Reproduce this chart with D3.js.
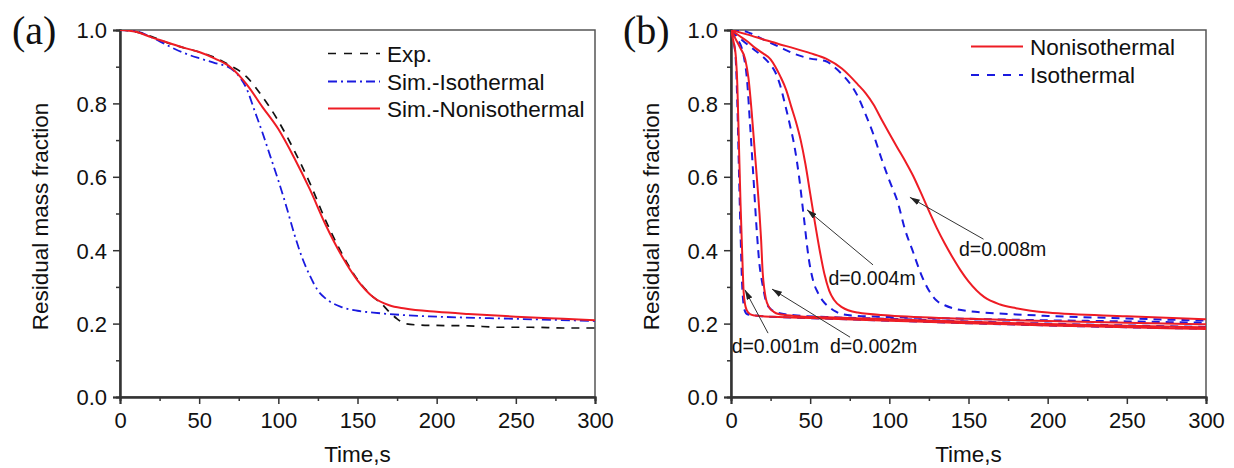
<!DOCTYPE html>
<html>
<head>
<meta charset="utf-8">
<script src="https://cdn.jsdelivr.net/npm/d3@7"></script>
<style>
  body { margin: 0; background: #fff; }
  text { font-family: "Liberation Sans", Arial, sans-serif; fill: #111; }
</style>
</head>
<body>
<svg id="chart" width="1234" height="468"></svg>
<script>
// ---- Panel (a): experiment vs. simulations, [time (s), residual mass fraction]
const expData = [[0,1.0],[10,0.995],[20,0.982],[30,0.965],[40,0.952],[50,0.94],[60,0.925],[70,0.902],[75,0.89],[80,0.872],[90,0.818],[100,0.752],[110,0.672],[120,0.582],[130,0.48],[140,0.392],[150,0.32],[160,0.272],[165,0.255],[170,0.232],[175,0.213],[180,0.2],[190,0.196],[200,0.195],[220,0.194],[240,0.19],[260,0.19],[280,0.188],[300,0.188]];
const isoData = [[0,1.0],[10,0.997],[20,0.98],[30,0.958],[40,0.938],[50,0.923],[60,0.91],[70,0.895],[75,0.875],[80,0.84],[85,0.78],[90,0.72],[95,0.655],[100,0.59],[105,0.52],[110,0.445],[115,0.38],[120,0.33],[125,0.29],[130,0.268],[140,0.245],[150,0.235],[160,0.23],[180,0.223],[200,0.219],[250,0.213],[300,0.207]];
const nonisoData = [[0,1.0],[10,0.995],[20,0.98],[30,0.966],[40,0.952],[50,0.94],[60,0.922],[70,0.898],[80,0.852],[90,0.79],[100,0.73],[110,0.652],[120,0.565],[130,0.468],[140,0.385],[150,0.318],[160,0.272],[170,0.25],[180,0.241],[200,0.232],[220,0.226],[250,0.219],[280,0.213],[300,0.209]];

// ---- Panel (b): particle diameter study
const red008 = [[0,1.0],[10,0.988],[20,0.975],[30,0.962],[40,0.95],[50,0.937],[60,0.922],[70,0.895],[75,0.875],[80,0.852],[85,0.828],[90,0.797],[95,0.757],[100,0.718],[105,0.68],[110,0.643],[115,0.603],[120,0.556],[125,0.507],[130,0.46],[135,0.418],[140,0.38],[145,0.345],[150,0.315],[160,0.272],[170,0.252],[180,0.242],[200,0.23],[250,0.22],[300,0.212]];
const blue008 = [[0,1.0],[5,1.0],[10,0.995],[20,0.975],[30,0.955],[40,0.935],[50,0.922],[60,0.915],[65,0.9],[70,0.88],[75,0.855],[80,0.82],[85,0.77],[90,0.715],[95,0.65],[100,0.59],[105,0.535],[110,0.455],[115,0.395],[120,0.335],[125,0.29],[130,0.262],[135,0.25],[140,0.242],[150,0.234],[160,0.23],[180,0.225],[200,0.221],[250,0.214],[300,0.208]];
const red004 = [[0,1.0],[5,0.985],[10,0.97],[15,0.952],[20,0.937],[25,0.92],[28,0.9],[31,0.875],[35,0.835],[38,0.792],[41,0.75],[44,0.7],[47,0.635],[50,0.555],[53,0.475],[56,0.4],[59,0.335],[62,0.29],[65,0.265],[70,0.245],[80,0.23],[100,0.222],[150,0.213],[200,0.207],[250,0.202],[300,0.198]];
const blue004 = [[0,1.0],[5,0.98],[10,0.962],[15,0.945],[20,0.928],[25,0.905],[28,0.885],[31,0.85],[34,0.8],[37,0.745],[40,0.685],[43,0.6],[46,0.49],[49,0.38],[52,0.315],[55,0.283],[58,0.262],[62,0.245],[66,0.233],[70,0.226],[80,0.221],[100,0.218],[150,0.213],[200,0.209],[250,0.206],[300,0.202]];
const red002 = [[0,1.0],[3,0.975],[6,0.95],[9,0.92],[11,0.87],[13,0.78],[15,0.67],[17,0.56],[18,0.5],[19,0.43],[20,0.34],[21,0.295],[22,0.268],[24,0.245],[27,0.232],[30,0.226],[40,0.221],[60,0.217],[100,0.212],[150,0.205],[200,0.199],[250,0.194],[300,0.19]];
const blue002 = [[0,1.0],[2,0.99],[4,0.975],[6,0.96],[8,0.93],[10,0.87],[12,0.745],[14,0.61],[16,0.47],[17,0.41],[18,0.36],[19,0.33],[20,0.305],[22,0.262],[25,0.24],[30,0.229],[40,0.223],[60,0.218],[100,0.213],[150,0.206],[200,0.2],[250,0.195],[300,0.191]];
const red001 = [[0,1.0],[1,0.98],[2,0.96],[3,0.93],[4,0.85],[5,0.69],[6,0.53],[7,0.4],[8,0.285],[9,0.25],[10,0.236],[12,0.226],[15,0.222],[20,0.22],[30,0.218],[50,0.215],[100,0.208],[150,0.201],[200,0.195],[250,0.19],[300,0.185]];
const blue001 = [[0,1.0],[1,0.985],[2,0.96],[3,0.92],[4,0.8],[5,0.62],[6,0.45],[7,0.31],[8,0.25],[9,0.232],[10,0.226],[15,0.222],[20,0.22],[50,0.215],[100,0.208],[150,0.201],[200,0.195],[250,0.19],[300,0.186]];

// Axis tick values
const xTicks = [0, 50, 100, 150, 200, 250, 300];
const xMinor = [25, 75, 125, 175, 225, 275];
const yTicks = [0.0, 0.2, 0.4, 0.6, 0.8, 1.0];
const yMinor = [0.1, 0.3, 0.5, 0.7, 0.9];

// Diameter labels with arrows: [label, text t, text v, tail t, tail v, tip t, tip v]
const diamLabels = [
  ["d=0.008m", 144, 0.384, 159.5, 0.43, 113, 0.544],
  ["d=0.004m", 61.5, 0.305, 89.7, 0.36, 48, 0.51],
  ["d=0.001m", 0.4, 0.121, 23.4, 0.174, 8.8, 0.292],
  ["d=0.002m", 62.5, 0.121, 75.2, 0.163, 25.9, 0.294]
];

const svg = d3.select("#chart");
const RED = "#ee1c24", BLUE = "#1a1adf";

const defs = svg.append("defs");
defs.append("marker")
  .attr("id", "arrowhead")
  .attr("viewBox", "0 0 10 6")
  .attr("refX", 10).attr("refY", 3)
  .attr("markerWidth", 10).attr("markerHeight", 6)
  .attr("markerUnits", "userSpaceOnUse")
  .attr("orient", "auto")
  .append("path").attr("d", "M0,0 L10,3 L0,6 Z").attr("fill", "#222");

function makePanel(id, left, right, top, bottom, tag) {
  const x = d3.scaleLinear().domain([0, 300]).range([left, right]);
  const y = d3.scaleLinear().domain([0, 1]).range([bottom, top]);
  const g = svg.append("g").attr("id", id);

  defs.append("clipPath").attr("id", "clip-" + id)
    .append("rect").attr("x", left).attr("y", top)
    .attr("width", right - left).attr("height", bottom - top);

  // frame
  g.append("rect").attr("x", left).attr("y", top)
    .attr("width", right - left).attr("height", bottom - top)
    .attr("fill", "none").attr("stroke", "#555").attr("stroke-width", 1.5);

  const xAxis = g.append("g").attr("transform", `translate(0,${bottom})`)
    .call(d3.axisBottom(x).tickValues(xTicks).tickSize(7).tickPadding(8).tickFormat(d3.format("d")));
  const xAxisMinor = g.append("g").attr("transform", `translate(0,${bottom})`)
    .call(d3.axisBottom(x).tickValues(xMinor).tickSize(4).tickFormat(""));
  const yAxis = g.append("g").attr("transform", `translate(${left},0)`)
    .call(d3.axisLeft(y).tickValues(yTicks).tickSize(7).tickPadding(6).tickFormat(d3.format(".1f")));
  const yAxisMinor = g.append("g").attr("transform", `translate(${left},0)`)
    .call(d3.axisLeft(y).tickValues(yMinor).tickSize(4).tickFormat(""));

  [xAxis, xAxisMinor, yAxis, yAxisMinor].forEach(a => {
    a.select(".domain").attr("stroke", "#333").attr("stroke-width", 2);
    a.selectAll(".tick line").attr("stroke", "#333").attr("stroke-width", 1.5);
    a.selectAll("text").attr("font-size", 22).attr("fill", "#111")
      .style("font-family", '"Liberation Sans", Arial, sans-serif');
  });
  yAxis.selectAll("text").attr("dy", "0.36em");

  // axis titles
  g.append("text").attr("x", (left + right) / 2).attr("y", 462)
    .attr("text-anchor", "middle").attr("font-size", 22.5).text("Time,s");
  g.append("text")
    .attr("transform", `translate(${left - 72},${(top + bottom) / 2 + 3}) rotate(-90)`)
    .attr("text-anchor", "middle").attr("font-size", 22.5).text("Residual mass fraction");

  // panel tag
  g.append("text").attr("x", left - 108).attr("y", 44)
    .style("font-family", '"Liberation Serif", "Times New Roman", serif')
    .attr("font-size", 40).text(tag);

  const plot = g.append("g").attr("clip-path", `url(#clip-${id})`);
  const line = d3.line().x(d => x(d[0])).y(d => y(d[1])).curve(d3.curveMonotoneX);
  return { x, y, g, plot, line };
}

function drawSeries(p, data, color, width, dash) {
  p.plot.append("path").datum(data)
    .attr("d", p.line)
    .attr("fill", "none").attr("stroke", color)
    .attr("stroke-width", width)
    .attr("stroke-dasharray", dash || null)
    .attr("stroke-linejoin", "round");
}

function legend(p, x0, rows) {
  rows.forEach(r => {
    const yy = r.y;
    p.g.append("line").attr("x1", x0).attr("x2", x0 + 52).attr("y1", yy).attr("y2", yy)
      .attr("stroke", r.color).attr("stroke-width", r.width)
      .attr("stroke-dasharray", r.dash || null);
    p.g.append("text").attr("x", x0 + 59).attr("y", yy + 8)
      .attr("font-size", 22.5).text(r.label);
  });
}

// ---------- Panel (a)
const pa = makePanel("pa", 120, 595, 30, 397, "(a)");
drawSeries(pa, isoData, BLUE, 1.8, "9,4,2,4");
drawSeries(pa, expData, "#111", 1.7, "8,7");
drawSeries(pa, nonisoData, RED, 2);
legend(pa, 328, [
  { label: "Exp.", color: "#111", width: 1.7, dash: "8,8", y: 53.5 },
  { label: "Sim.-Isothermal", color: BLUE, width: 1.8, dash: "9,4,2,4", y: 81.5 },
  { label: "Sim.-Nonisothermal", color: RED, width: 2, y: 108.5 }
]);

// ---------- Panel (b)
const pb = makePanel("pb", 731, 1206, 30, 397, "(b)");
[blue008, blue004, blue002, blue001].forEach(s => drawSeries(pb, s, BLUE, 2, "8,6"));
[red008, red004, red002, red001].forEach(s => drawSeries(pb, s, RED, 2));
legend(pb, 971, [
  { label: "Nonisothermal", color: RED, width: 2, y: 46.5 },
  { label: "Isothermal", color: BLUE, width: 2, dash: "8,8", y: 75 }
]);

diamLabels.forEach(([label, tx, tv, ax, av, bx, bv]) => {
  pb.g.append("line")
    .attr("x1", pb.x(ax)).attr("y1", pb.y(av))
    .attr("x2", pb.x(bx)).attr("y2", pb.y(bv))
    .attr("stroke", "#333").attr("stroke-width", 1)
    .attr("marker-end", "url(#arrowhead)");
  pb.g.append("text").attr("x", pb.x(tx)).attr("y", pb.y(tv))
    .attr("font-size", 19.5).text(label);
});
</script>
</body>
</html>
